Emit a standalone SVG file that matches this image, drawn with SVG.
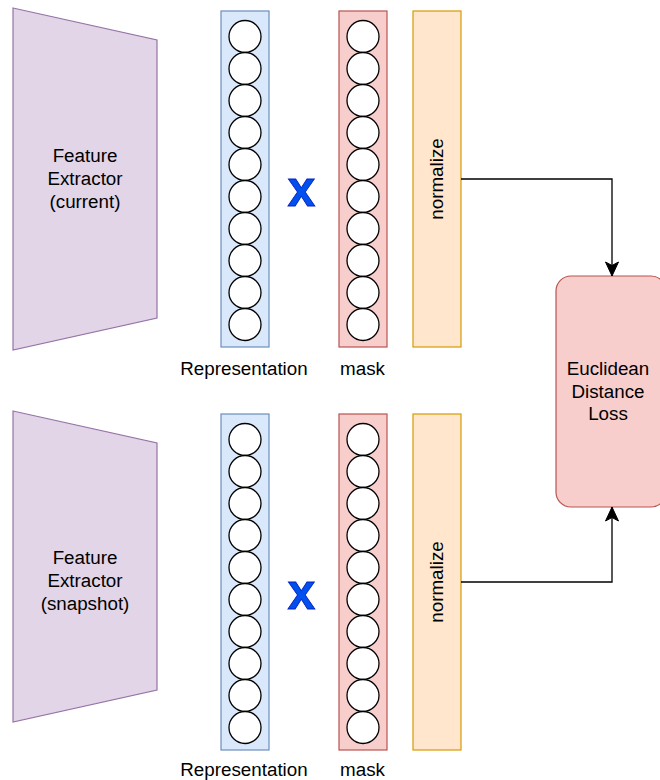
<svg xmlns="http://www.w3.org/2000/svg" width="660" height="780" viewBox="0 0 660 780">
<defs>
<style>
text{font-family:"Liberation Sans",Arial,sans-serif;font-size:18.8px;fill:#000;}
.c{text-anchor:middle;}
.trap{fill:#e1d5e7;stroke:#9673a6;stroke-width:1.2;}
.rep{fill:#dae8fc;stroke:#6c8ebf;stroke-width:1.2;}
.mask{fill:#f8cecc;stroke:#b85450;stroke-width:1.2;}
.norm{fill:#ffe6cc;stroke:#d79b00;stroke-width:1.2;}
.loss{fill:#f8cecc;stroke:#b85450;stroke-width:1.2;}
.n{fill:#fff;stroke:#000;stroke-width:1.3;}
.xm{font-size:50px;font-weight:bold;fill:#0050ef;stroke:#001dbc;stroke-width:0.8;text-anchor:middle;}
.edge{fill:none;stroke:#000;stroke-width:1.3;}
</style>
<marker id="arr" markerUnits="userSpaceOnUse" markerWidth="16" markerHeight="16" viewBox="0 0 16 16" refX="15" refY="8" orient="auto">
<path d="M1,1.5 L15,8 L1,14.5 L4.5,8 Z" fill="#000" stroke="#000" stroke-width="1"/>
</marker>
<g id="col">
<circle class="n" cx="0" cy="0" r="16"/>
<circle class="n" cx="0" cy="32" r="16"/>
<circle class="n" cx="0" cy="64" r="16"/>
<circle class="n" cx="0" cy="96" r="16"/>
<circle class="n" cx="0" cy="128" r="16"/>
<circle class="n" cx="0" cy="160" r="16"/>
<circle class="n" cx="0" cy="192" r="16"/>
<circle class="n" cx="0" cy="224" r="16"/>
<circle class="n" cx="0" cy="256" r="16"/>
<circle class="n" cx="0" cy="288" r="16"/>
</g>
</defs>
<rect width="660" height="780" fill="#fff"/>

<g id="fe-current">
<polygon class="trap" points="13,8 157,40 157,318 13,350"/>
<text class="c" x="85" y="162">Feature</text>
<text class="c" x="85" y="185">Extractor</text>
<text class="c" x="85" y="208">(current)</text>
</g>
<g id="rep-current">
<rect class="rep" x="221" y="11" width="48" height="336"/>
<use href="#col" x="245" y="36.5"/>
</g>
<g id="mul-current"><text class="xm" x="301.5" y="206">x</text></g>
<g id="mask-current">
<rect class="mask" x="339" y="11" width="48" height="336"/>
<use href="#col" x="363" y="36.5"/>
</g>
<g id="norm-current">
<rect class="norm" x="413" y="11" width="48" height="336"/>
<text class="c" transform="translate(443,179) rotate(-90)">normalize</text>
</g>
<g id="label-rep-current"><text class="c" x="244" y="375">Representation</text></g>
<g id="label-mask-current"><text class="c" x="362.5" y="375">mask</text></g>

<g id="fe-snapshot">
<polygon class="trap" points="13,411 157,443 157,690 13,722"/>
<text class="c" x="85" y="564">Feature</text>
<text class="c" x="85" y="587">Extractor</text>
<text class="c" x="85" y="610">(snapshot)</text>
</g>
<g id="rep-snapshot">
<rect class="rep" x="221" y="414" width="48" height="336"/>
<use href="#col" x="245" y="439.5"/>
</g>
<g id="mul-snapshot"><text class="xm" x="301.5" y="609">x</text></g>
<g id="mask-snapshot">
<rect class="mask" x="339" y="414" width="48" height="336"/>
<use href="#col" x="363" y="439.5"/>
</g>
<g id="norm-snapshot">
<rect class="norm" x="413" y="414" width="48" height="336"/>
<text class="c" transform="translate(443,582) rotate(-90)">normalize</text>
</g>
<g id="label-rep-snapshot"><text class="c" x="244" y="776">Representation</text></g>
<g id="label-mask-snapshot"><text class="c" x="362.5" y="776">mask</text></g>

<g id="loss">
<rect class="loss" x="556" y="276" width="110" height="231" rx="15" ry="15"/>
<text class="c" x="608" y="375">Euclidean</text>
<text class="c" x="608" y="397.5">Distance</text>
<text class="c" x="608" y="420">Loss</text>
</g>

<g id="connectors">
<path class="edge" d="M461,179 H612 V276" marker-end="url(#arr)"/>
<path class="edge" d="M461,582 H612 V507" marker-end="url(#arr)"/>
</g>
</svg>
